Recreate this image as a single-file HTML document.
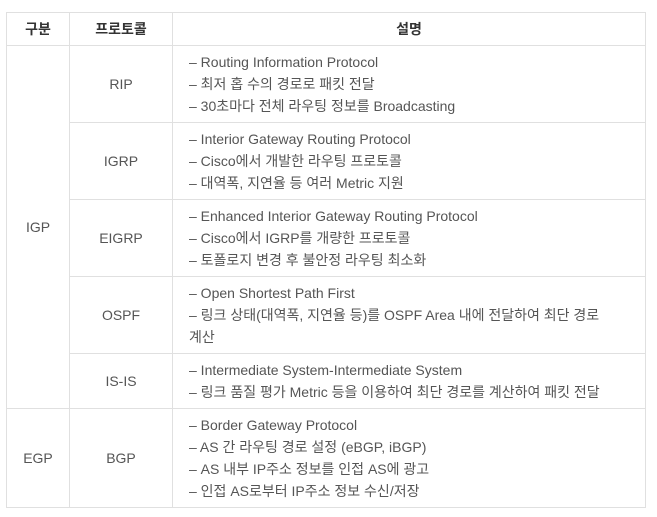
<!DOCTYPE html>
<html><head><meta charset="utf-8"><style>
body{margin:0;background:#fff;width:657px;height:517px;overflow:hidden;font-family:"Liberation Sans","Noto Sans CJK KR",sans-serif;}
table{position:absolute;left:6px;top:12px;border-collapse:collapse;table-layout:fixed;width:640px;font-size:14px;color:#555;}
td,th{border:1px solid #e0e0e0;padding:0;}
th{height:32px;font-weight:bold;color:#333;font-size:14px;}
td.c{text-align:center;}
td.d{padding-left:16px;line-height:22px;vertical-align:middle;}
</style></head><body>
<table>
<colgroup><col style="width:63px"><col style="width:103px"><col></colgroup>
<tr><th>구분</th><th>프로토콜</th><th>설명</th></tr>
<tr style="height:77px"><td class="c" rowspan="5">IGP</td><td class="c">RIP</td><td class="d">– Routing Information Protocol<br>– 최저 홉 수의 경로로 패킷 전달<br>– 30초마다 전체 라우팅 정보를 Broadcasting</td></tr>
<tr style="height:77px"><td class="c">IGRP</td><td class="d">– Interior Gateway Routing Protocol<br>– Cisco에서 개발한 라우팅 프로토콜<br>– 대역폭, 지연율 등 여러 Metric 지원</td></tr>
<tr style="height:77px"><td class="c">EIGRP</td><td class="d">– Enhanced Interior Gateway Routing Protocol<br>– Cisco에서 IGRP를 개량한 프로토콜<br>– 토폴로지 변경 후 불안정 라우팅 최소화</td></tr>
<tr style="height:77px"><td class="c">OSPF</td><td class="d">– Open Shortest Path First<br>– 링크 상태(대역폭, 지연율 등)를 OSPF Area 내에 전달하여 최단 경로<br>계산</td></tr>
<tr style="height:55px"><td class="c">IS-IS</td><td class="d">– Intermediate System-Intermediate System<br>– 링크 품질 평가 Metric 등을 이용하여 최단 경로를 계산하여 패킷 전달</td></tr>
<tr style="height:99px"><td class="c">EGP</td><td class="c">BGP</td><td class="d">– Border Gateway Protocol<br>– AS 간 라우팅 경로 설정 (eBGP, iBGP)<br>– AS 내부 IP주소 정보를 인접 AS에 광고<br>– 인접 AS로부터 IP주소 정보 수신/저장</td></tr>
</table>
</body></html>
